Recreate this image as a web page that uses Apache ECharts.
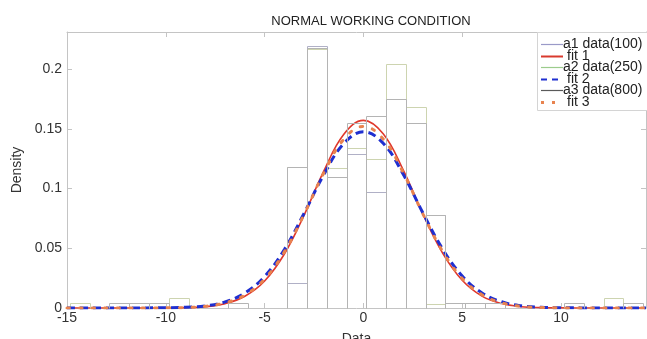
<!DOCTYPE html>
<html>
<head>
<meta charset="utf-8">
<script src="https://cdn.jsdelivr.net/npm/echarts@6/dist/echarts.min.js"></script>
<style>
html,body{margin:0;padding:0;background:#fff;}
#chart{width:647px;height:339px;}
</style>
</head>
<body>
<div id="chart"></div>
<script>
// ---- data ----
const chartTitle = 'NORMAL WORKING CONDITION';
const xName = 'Data';
const yName = 'Density';
const xTicks = [-15, -10, -5, 0, 5, 10];
const yTicks = [0, 0.05, 0.1, 0.15, 0.2];
const binEdges = [-14.85,-13.85,-12.85,-11.85,-10.85,-9.85,-8.85,-7.85,-6.85,-5.85,-4.85,-3.85,-2.85,-1.85,-0.85,0.15,1.15,2.15,3.15,4.15,5.15,6.15,7.15,8.15,9.15,10.15,11.15,12.15,13.15,14.15];
// densities per bin (29 bins)
const a1Density = [0,0,0,0,0,0,0,0,0,0,0,0.021,0.2195,0.110,0.129,0.097,0.175,0.155,0.078,0,0,0,0,0,0,0,0,0,0];
const a2Density = [0.004,0,0,0,0,0.008,0,0,0,0,0,0.118,0.217,0.117,0.134,0.125,0.204,0.168,0.003,0,0.004,0,0,0,0,0,0,0.008,0];
const a3Density = [0,0,0.004,0.004,0.004,0,0,0,0.004,0,0,0.118,0.2175,0.110,0.155,0.161,0.175,0.155,0.078,0.004,0.004,0.004,0,0,0,0.004,0,0,0.004];
const fitX  = [-15,-14,-13,-12,-11,-10,-9,-8,-7,-6,-5,-4,-3,-2,-1,0,1,2,3,4,5,6,7,8,9,10,11,12,13,14.3];
const fit1Y = [0,0,0,0,0,0.0001,0.0003,0.0011,0.0036,0.0098,0.0226,0.0452,0.0778,0.1148,0.1452,0.1570,0.1458,0.1160,0.0790,0.0462,0.0232,0.0099,0.0037,0.0011,0.0003,0.0001,0,0,0,0];
const fit2Y = [0,0,0,0,0.0001,0.0002,0.0006,0.0018,0.0051,0.0125,0.0264,0.0490,0.0793,0.1118,0.1375,0.1475,0.1379,0.1124,0.0799,0.0496,0.0268,0.0126,0.0052,0.0018,0.0006,0.0002,0.0001,0,0,0];
const fit3Y = [0,0,0,0,0,0.0001,0.0004,0.0014,0.0043,0.0109,0.0243,0.0470,0.0785,0.1132,0.1411,0.1520,0.1415,0.1138,0.0791,0.0476,0.0247,0.0111,0.0044,0.0014,0.0004,0.0001,0,0,0,0];
const legendLabels = ['a1 data(100)','fit 1','a2 data(250)','fit 2','a3 data(800)','fit 3'];

// ---- build ----
const FONT = 'Liberation Sans, Arial, sans-serif';
function histData(dens){
  const out=[];
  for(let i=0;i<dens.length;i++){ if(dens[i]>0) out.push([binEdges[i],binEdges[i+1],dens[i]]); }
  return out;
}
function histRender(color){
  return function(params, api){
    const x0=api.value(0), x1=api.value(1), h=api.value(2);
    const p0=api.coord([x0,0]), p1=api.coord([x1,h]);
    const l=Math.round(p0[0])+0.5, r=Math.round(p1[0])+0.5, t=Math.round(p1[1])+0.5, b=Math.round(p0[1])+0.5;
    return {type:'polyline', shape:{points:[[l,b],[l,t],[r,t],[r,b]]}, style:{fill:'none', stroke:color, lineWidth:1}, z2:1};
  };
}
function pairs(xs, ys){ return xs.map((x,i)=>[x,ys[i]]); }

const axisColor = '#c4c4c4';
const labelColor = '#333333';
const xCommon = {type:'value', min:-15, max:14.3, interval:5, splitLine:{show:false},
  axisLine:{show:true, onZero:false, lineStyle:{color:axisColor, width:1}},
  axisTick:{show:true, inside:true, length:5, lineStyle:{color:axisColor}}};
const yCommon = {type:'value', min:0, max:0.231, interval:0.05, splitLine:{show:false},
  axisLine:{show:true, onZero:false, lineStyle:{color:axisColor, width:1}},
  axisTick:{show:true, inside:true, length:5, lineStyle:{color:axisColor}}};

const chart = echarts.init(document.getElementById('chart'), null, {renderer:'canvas'});
const legX = 541, legY0 = 44, legStep = 11.6;
const legColors = ['#9a9ac8','#d93a2e','#9ccc8c','#1f2fd0','#5a5a5a','#e8834f'];
const legGraphics = [{type:'rect', shape:{x:537.5, y:32.5, width:120, height:78}, style:{fill:'#fff', stroke:'#d4d4d4', lineWidth:1}, z:50}];
legendLabels.forEach((t,i)=>{
  const y = Math.round(legY0 + i*legStep)+0.5;
  let style = {stroke:legColors[i], lineWidth:1.2};
  if(i===1) style.lineWidth=2;
  if(i===3){ style.lineWidth=2.2; style.lineDash=[6,5]; }
  if(i===5){ style.lineWidth=3; style.lineDash=[3,8]; }
  legGraphics.push({type:'line', shape:{x1:legX, y1:y, x2:legX+22, y2:y}, style:style, z:51});
  legGraphics.push({type:'text', x: (i%2===1)? legX+26 : legX+22, y: y, style:{text:t, font:'14px '+FONT, fill:'#222', textVerticalAlign:'middle', verticalAlign:'middle'}, z:52});
});

chart.setOption({
  animation:false,
  backgroundColor:'#ffffff',
  title:{text:chartTitle, left:366, textAlign:'center', top:10, textStyle:{fontSize:13, fontWeight:'normal', color:'#222', fontFamily:FONT}},
  grid:{left:67, right:1, top:32, bottom:31, containLabel:false, outerBoundsMode:'none'},
  xAxis:[
    Object.assign({}, xCommon, {position:'bottom', name:xName, nameLocation:'middle', nameGap:24,
      nameTextStyle:{fontSize:14, color:labelColor, fontFamily:FONT},
      axisLabel:{show:true, color:labelColor, fontSize:14, fontFamily:FONT, margin:3, showMaxLabel:false,
        formatter:v=> xTicks.indexOf(v)>=0 ? String(v) : ''}}),
    Object.assign({}, xCommon, {position:'top', axisLabel:{show:false}})
  ],
  yAxis:[
    Object.assign({}, yCommon, {position:'left', name:yName, nameLocation:'middle', nameGap:43,
      nameTextStyle:{fontSize:14, color:labelColor, fontFamily:FONT},
      axisLabel:{show:true, color:labelColor, fontSize:14, fontFamily:FONT, margin:5, showMaxLabel:false,
        formatter:v=> yTicks.some(t=>Math.abs(t-v)<1e-9) ? String(v) : ''}}),
    Object.assign({}, yCommon, {position:'right', axisLabel:{show:false}})
  ],
  series:[
    {name:legendLabels[0], type:'custom', renderItem:histRender('#b0b0c6'), data:histData(a1Density), encode:{x:[0,1], y:2}, z:1},
    {name:legendLabels[1], type:'line', data:pairs(fitX, fit1Y), smooth:0.4, showSymbol:false, lineStyle:{color:'#e0382c', width:1.6}, z:2},
    {name:legendLabels[2], type:'custom', renderItem:histRender('#cdd4b0'), data:histData(a2Density), encode:{x:[0,1], y:2}, z:3},
    {name:legendLabels[3], type:'line', data:pairs(fitX, fit2Y), smooth:0.4, showSymbol:false, lineStyle:{color:'#1f2fd0', width:3, type:[8,5]}, z:4},
    {name:legendLabels[4], type:'custom', renderItem:histRender('#b4b4b4'), data:histData(a3Density), encode:{x:[0,1], y:2}, z:5},
    {name:legendLabels[5], type:'line', data:pairs(fitX, fit3Y), smooth:0.4, showSymbol:false, lineStyle:{color:'#e8834f', width:3, type:[2.5,10], cap:'round'}, z:6}
  ],
  graphic:legGraphics
});
</script>
</body>
</html>
